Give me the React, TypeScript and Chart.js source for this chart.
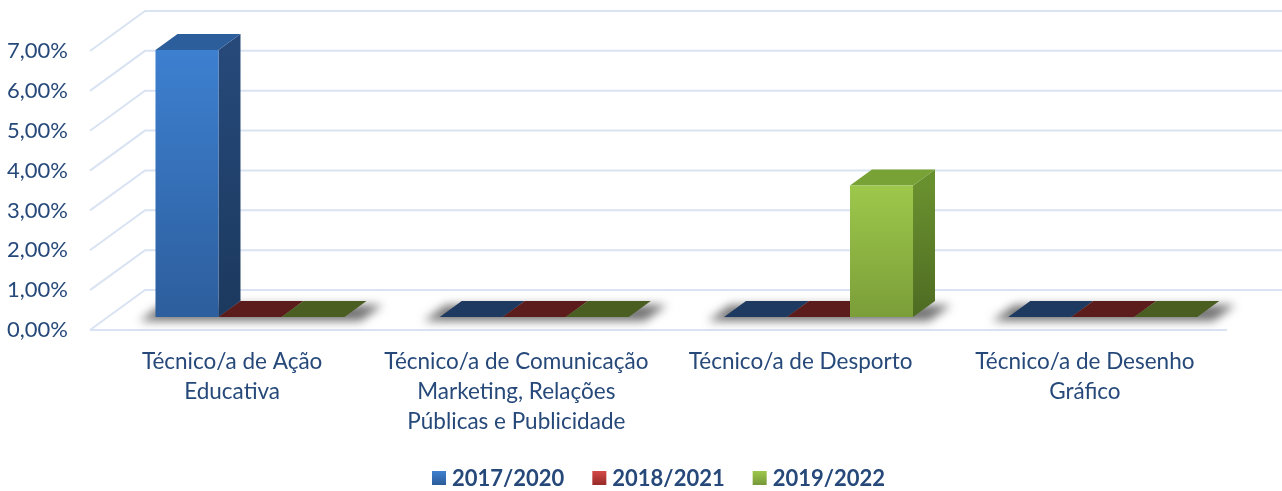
import React, { useEffect, useRef } from 'react';
import { Chart, registerables } from 'chart.js';

Chart.register(...registerables);

const categories: string[][] = [
  ['Técnico/a de Ação', 'Educativa'],
  ['Técnico/a de Comunicação', 'Marketing, Relações', 'Públicas e Publicidade'],
  ['Técnico/a de Desporto'],
  ['Técnico/a de Desenho', 'Gráfico'],
];
const seriesNames = ['2017/2020', '2018/2021', '2019/2022'];
const values2017 = [6.7, 0, 0, 0];
const values2018 = [0, 0, 0, 0];
const values2019 = [0, 0, 3.3, 0];
const yTicks = [0, 1, 2, 3, 4, 5, 6, 7];

const FONT = 'Lato, "Open Sans", sans-serif';
const TEXT = '#26497A';
const GRID = '#D9E3F2';

// colors per series: front gradient (top, bottom), top face, side gradient (top, bottom), flat (zero-height) face
const palette = [
  { front: ['#3D80D0', '#2D5E9D'], top: '#2C5E9C', side: ['#26497A', '#1C395E'], flat: '#1E3A60', legend: ['#3F80D2', '#2C5C98'] },
  { front: ['#C8504D', '#8F2E2C'], top: '#7A2624', side: ['#62201F', '#4E1817'], flat: '#5C1C1B', legend: ['#D44A47', '#962A28'] },
  { front: ['#9DC84B', '#7B9E39'], top: '#78A136', side: ['#69902F', '#4E6B22'], flat: '#4A5E21', legend: ['#9DC84B', '#76983A'] },
];

const DX = 55;
const DY = -40;
const F1 = 0.325; // bar front depth fraction
const F2 = 0.725; // bar back depth fraction

const threeD = {
  id: 'threeD',
  beforeDraw(chart: any) {
    const { ctx, chartArea: a, scales } = chart;
    const y = scales.y;
    ctx.save();
    ctx.strokeStyle = GRID;
    ctx.lineWidth = 2;
    for (const v of yTicks) {
      const py = y.getPixelForValue(v);
      ctx.beginPath();
      ctx.moveTo(a.left, py);
      ctx.lineTo(a.left + DX, py + DY);
      ctx.lineTo(a.right + DX, py + DY);
      ctx.stroke();
    }
    ctx.beginPath();
    ctx.moveTo(a.left, a.bottom);
    ctx.lineTo(a.right, a.bottom);
    ctx.stroke();
    ctx.restore();
  },
  beforeDatasetsDraw(chart: any) {
    const { ctx } = chart;
    const fx = DX * F1, fy = DY * F1;
    const bx = DX * (F2 - F1), by = DY * (F2 - F1);
    const metas = chart.data.datasets.map((_: any, i: number) => chart.getDatasetMeta(i));
    const n = chart.data.labels.length;
    ctx.save();
    // shadows under each group
    for (let c = 0; c < n; c++) {
      const first = metas[0].data[c];
      const last = metas[metas.length - 1].data[c];
      const x0 = first.x - first.width / 2 + fx - 16;
      const x1 = last.x + last.width / 2 + fx + 16;
      const yb = first.base + fy + 2;
      ctx.save();
      ctx.shadowColor = 'rgba(0,0,0,0.55)';
      ctx.shadowBlur = 10;
      ctx.shadowOffsetX = 10000;
      ctx.shadowOffsetY = 2;
      ctx.fillStyle = '#000';
      ctx.beginPath();
      ctx.moveTo(x0 - 10000, yb);
      ctx.lineTo(x1 - 10000, yb);
      ctx.lineTo(x1 + bx - 10000, yb + by);
      ctx.lineTo(x0 + bx - 10000, yb + by);
      ctx.closePath();
      ctx.fill();
      ctx.restore();
    }
    // bars
    for (let c = 0; c < n; c++) {
      metas.forEach((meta: any, s: number) => {
        const el = meta.data[c];
        const p = palette[s];
        const L = el.x - el.width / 2 + fx;
        const R = el.x + el.width / 2 + fx;
        const B = el.base + fy;
        const T = el.y + fy;
        if (Math.abs(B - T) < 0.5) {
          ctx.fillStyle = p.flat;
          ctx.beginPath();
          ctx.moveTo(L, B);
          ctx.lineTo(R, B);
          ctx.lineTo(R + bx, B + by);
          ctx.lineTo(L + bx, B + by);
          ctx.closePath();
          ctx.fill();
          return;
        }
        // side
        const sg = ctx.createLinearGradient(0, T, 0, B);
        sg.addColorStop(0, p.side[0]);
        sg.addColorStop(1, p.side[1]);
        ctx.fillStyle = sg;
        ctx.beginPath();
        ctx.moveTo(R, T);
        ctx.lineTo(R + bx, T + by);
        ctx.lineTo(R + bx, B + by);
        ctx.lineTo(R, B);
        ctx.closePath();
        ctx.fill();
        // top
        ctx.fillStyle = p.top;
        ctx.beginPath();
        ctx.moveTo(L, T);
        ctx.lineTo(R, T);
        ctx.lineTo(R + bx, T + by);
        ctx.lineTo(L + bx, T + by);
        ctx.closePath();
        ctx.fill();
        // front
        const fg = ctx.createLinearGradient(0, T, 0, B);
        fg.addColorStop(0, p.front[0]);
        fg.addColorStop(1, p.front[1]);
        ctx.fillStyle = fg;
        ctx.fillRect(L, T, R - L, B - T);
      });
    }
    ctx.restore();
    return false;
  },
  afterDraw(chart: any) {
    const { ctx, chartArea: a } = chart;
    ctx.save();
    ctx.font = `bold 22px ${FONT}`;
    ctx.textBaseline = 'middle';
    const box = 14, gap = 6, space = 28;
    const widths = seriesNames.map((s) => ctx.measureText(s).width);
    const total = widths.reduce((t, w) => t + box + gap + w, 0) + space * (seriesNames.length - 1);
    let x = (a.left + a.right) / 2 - total / 2;
    const yc = 478;
    seriesNames.forEach((name, i) => {
      const g = ctx.createLinearGradient(0, yc - box / 2, 0, yc + box / 2);
      g.addColorStop(0, palette[i].legend[0]);
      g.addColorStop(1, palette[i].legend[1]);
      ctx.fillStyle = g;
      ctx.fillRect(x, yc - box / 2, box, box);
      ctx.fillStyle = TEXT;
      ctx.fillText(name, x + box + gap, yc + 1);
      x += box + gap + widths[i] + space;
    });
    ctx.restore();
  },
};

export default function App() {
  const ref = useRef<HTMLCanvasElement>(null);
  useEffect(() => {
    document.body.style.margin = '0';
    const chart = new Chart(ref.current!, {
      type: 'bar',
      data: {
        labels: categories,
        datasets: [
          { label: seriesNames[0], data: values2017, backgroundColor: palette[0].front[0] },
          { label: seriesNames[1], data: values2018, backgroundColor: palette[1].front[0] },
          { label: seriesNames[2], data: values2019, backgroundColor: palette[2].front[0] },
        ],
      },
      options: {
        animation: false,
        responsive: true,
        maintainAspectRatio: false,
        layout: { padding: { top: 51, right: 55, left: 0, bottom: 0 } },
        datasets: { bar: { barPercentage: 1, categoryPercentage: 0.665 } },
        plugins: { legend: { display: false }, tooltip: { enabled: false } },
        scales: {
          x: {
            grid: { display: false, drawTicks: false },
            border: { display: false },
            ticks: { color: TEXT, font: { family: FONT, size: 22.5, lineHeight: 1.33 }, padding: 17, maxRotation: 0, autoSkip: false },
            afterFit: (s: any) => { s.height = 161; },
          },
          y: {
            min: 0,
            max: 7,
            grid: { display: false, drawTicks: false },
            border: { display: false },
            ticks: {
              stepSize: 1,
              color: TEXT,
              font: { family: FONT, size: 22 },
              padding: 22,
              callback: (v: any) => Number(v).toFixed(2).replace('.', ',') + '%',
            },
            afterFit: (s: any) => { s.width = 90; },
          },
        },
      },
      plugins: [threeD],
    });
    return () => chart.destroy();
  }, []);
  return (
    <div style={{ width: 1282, height: 491, position: 'relative' }}>
      <canvas ref={ref} />
    </div>
  );
}
